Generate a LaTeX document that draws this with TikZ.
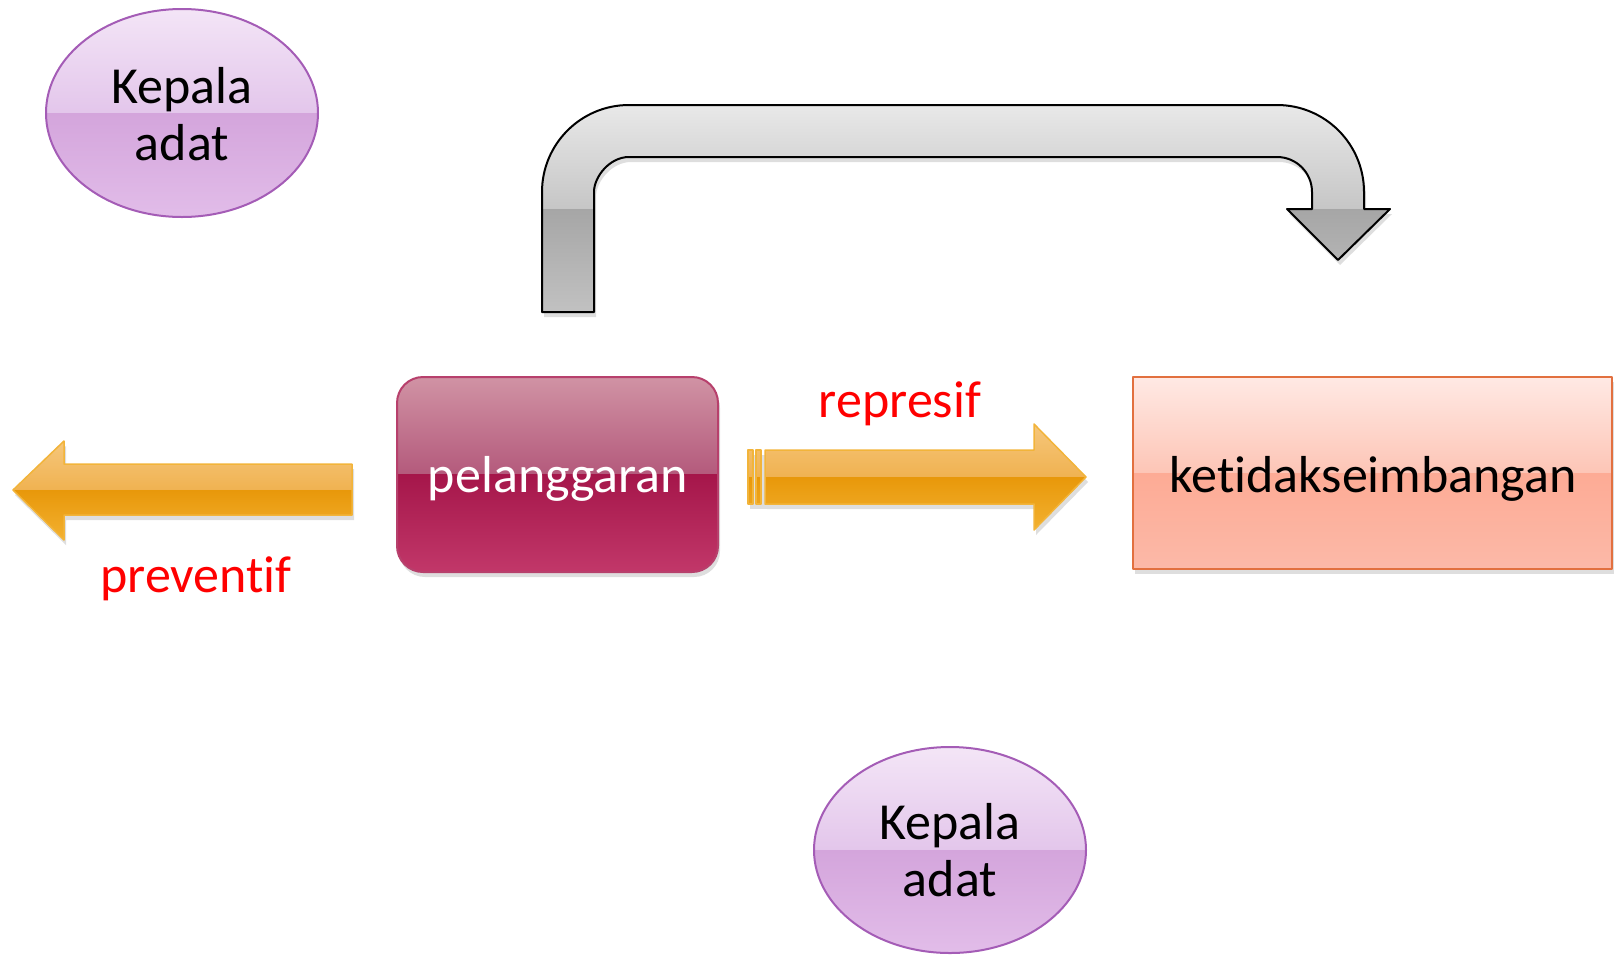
\documentclass[tikz,border=0pt]{standalone}
\usepackage{fontspec}
\setmainfont{Carlito}[RawFeature={-liga;-clig;-calt;-dlig}]
\definecolor{elTop}{HTML}{F4E6F7}
\definecolor{elMid}{HTML}{E3C6EB}
\definecolor{elLow}{HTML}{D4A5DC}
\definecolor{elBot}{HTML}{E2BDE9}
\definecolor{elLine}{HTML}{A45CB6}
\definecolor{gyTop}{HTML}{EAEAEA}
\definecolor{gyMid}{HTML}{C6C6C6}
\definecolor{gyLow}{HTML}{A6A6A6}
\definecolor{gyBot}{HTML}{C2C2C2}
\definecolor{orTop}{HTML}{F6C87E}
\definecolor{orMid}{HTML}{F0B251}
\definecolor{orLow}{HTML}{E8980A}
\definecolor{orBot}{HTML}{F3B232}
\definecolor{orLine}{HTML}{F2B43A}
\definecolor{plTop}{HTML}{D194A5}
\definecolor{plMid}{HTML}{B45A7C}
\definecolor{plLow}{HTML}{A5164A}
\definecolor{plBot}{HTML}{C2386A}
\definecolor{plLine}{HTML}{B7406C}
\definecolor{kTop}{HTML}{FFE9E4}
\definecolor{kMid}{HTML}{FDC5B6}
\definecolor{kLow}{HTML}{FDAB95}
\definecolor{kBot}{HTML}{FCB9A8}
\definecolor{kLine}{HTML}{E2703F}
\definecolor{redtxt}{HTML}{FF0000}
\begin{document}
\begin{tikzpicture}[x=1pt,y=-1pt,line join=round]
\tikzset{
  lbl/.style={font=\fontsize{52}{56}\selectfont, inner sep=0pt, anchor=base},
  shade/.style={fill=black, opacity=0.13},
}
\useasboundingbox (0,0) rectangle (1614,954);
\def\bentpath{(542,312) -- (542,192) .. controls (542,143.95) and (580.95,105) .. (629,105) -- (1277,105) .. controls (1325.05,105) and (1364,143.95) .. (1364,192) -- (1364,209) -- (1390,209) -- (1338,260) -- (1287,209) -- (1312,209) -- (1312,192) .. controls (1312,172.67) and (1296.33,157) .. (1277,157) -- (629,157) .. controls (609.67,157) and (594,176.67) .. (594,192) -- (594,312) -- cycle}
\def\larrow{(352,464) -- (64,464) -- (64,441) -- (13,490) -- (64,540) -- (64,515) -- (352,515) -- cycle}
\def\rarrow{(765,450) -- (1034,450) -- (1034,424) -- (1086,477) -- (1034,530) -- (1034,504) -- (765,504) -- cycle}
% ---- ellipse top-left
\begin{scope}
\clip (182,113) ellipse [x radius=136, y radius=104];
\fill[top color=elTop, bottom color=elMid] (40,5) rectangle (325,113);
\fill[top color=elLow, bottom color=elBot] (40,113) rectangle (325,220);
\end{scope}
\draw[elLine, line width=2] (182,113) ellipse [x radius=136, y radius=104];
\node[lbl] (k1a) at (182,103) {Kepala};
\node[lbl] (k1b) at (182,160) {adat};
% ---- ellipse bottom
\begin{scope}
\clip (950,850) ellipse [x radius=136, y radius=103];
\fill[top color=elTop, bottom color=elMid] (810,745) rectangle (1090,850);
\fill[top color=elLow, bottom color=elBot] (810,850) rectangle (1090,954);
\end{scope}
\draw[elLine, line width=2] (950,850) ellipse [x radius=136, y radius=103];
\node[lbl] (k2a) at (950,839) {Kepala};
\node[lbl] (k2b) at (950,896) {adat};
% ---- bent arrow
\fill[shade, shift={(2,5)}] \bentpath;
\begin{scope}
\clip \bentpath;
\fill[top color=gyTop, bottom color=gyMid] (530,100) rectangle (1400,209);
\fill[top color=gyLow, bottom color=gyBot] (530,209) rectangle (1400,315);
\end{scope}
\draw[black, line width=2] \bentpath;
% ---- left arrow
\fill[shade, shift={(2,5)}] \larrow;
\begin{scope}
\clip \larrow;
\fill[top color=orTop, bottom color=orMid] (10,438) rectangle (355,490);
\fill[top color=orLow, bottom color=orBot] (10,490) rectangle (355,542);
\end{scope}
\draw[orLine, line width=1.5] \larrow;
% ---- right arrow
\fill[shade, shift={(2,5)}] (748,450) rectangle (765,504);
\fill[shade, shift={(2,5)}] \rarrow;
\begin{scope}
\clip \rarrow (748,450) rectangle (753,504) (756,450) rectangle (761,504);
\fill[top color=orTop, bottom color=orMid] (745,420) rectangle (1090,477);
\fill[top color=orLow, bottom color=orBot] (745,477) rectangle (1090,532);
\end{scope}
\draw[orLine, line width=1.5] \rarrow;
\draw[orLine, line width=1.2] (748,450) rectangle (753,504) (756,450) rectangle (761,504);
% ---- pelanggaran box
\fill[shade, rounded corners=26, shift={(2,5)}] (397,377) rectangle (718,572);
\begin{scope}
\clip[rounded corners=26] (397,377) rectangle (718,572);
\fill[top color=plTop, bottom color=plMid] (395,375) rectangle (720,474);
\fill[top color=plLow, bottom color=plBot] (395,474) rectangle (720,574);
\end{scope}
\draw[plLine, line width=2, rounded corners=26] (397,377) rectangle (718,572);
\node[lbl, text=white] (pel) at (558,492) {pelanggaran};
% ---- ketidakseimbangan box
\fill[shade, shift={(2,5)}] (1133,377) rectangle (1612,569);
\fill[top color=kTop, bottom color=kMid] (1133,377) rectangle (1612,473);
\fill[top color=kLow, bottom color=kBot] (1133,473) rectangle (1612,569);
\draw[kLine, line width=2] (1133,377) rectangle (1612,569);
\node[lbl] (ket) at (1373,492) {ket\kern0pt idakseimbangan};
% ---- labels
\node[lbl, text=redtxt] (rep) at (900,417) {represif};
\node[lbl, text=redtxt] (pre) at (196,592) {prevent\kern0pt if};
\end{tikzpicture}
\end{document}
